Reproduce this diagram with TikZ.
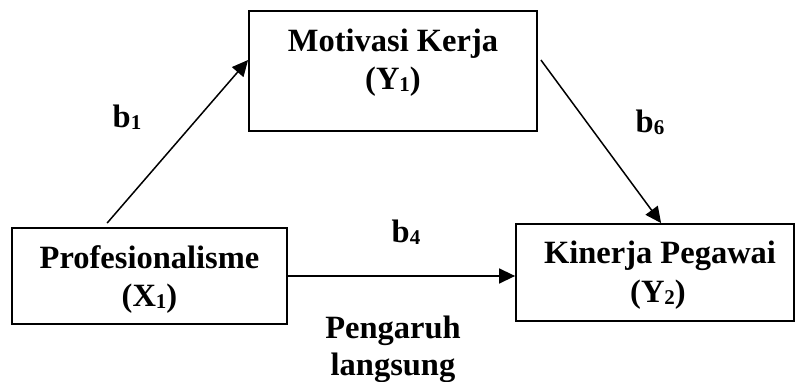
\documentclass[tikz,border=0pt]{standalone}
\usepackage{fontspec}
\setmainfont{Liberation Serif}
\usetikzlibrary{arrows.meta}
\newcommand{\sbx}[1]{\raisebox{-2pt}{\fontsize{21}{21}\selectfont #1}}
\begin{document}
\begin{tikzpicture}[x=1pt,y=1pt,
  box/.style={draw, line width=1.8pt, inner sep=0pt},
  txt/.style={anchor=base, inner sep=0pt, font=\fontsize{32.5}{38}\selectfont\bfseries},
  conn/.style={line width=1.5pt, -{Triangle[length=16pt,width=15pt]}}]
\useasboundingbox (0,0) rectangle (795,382);
% boxes
\node[box, minimum width=288pt, minimum height=120pt] (y1) at (393,311) {};
\node[box, minimum width=275pt, minimum height=96pt] (x1) at (149.5,106) {};
\node[box, minimum width=278pt, minimum height=97pt] (y2) at (655,109.5) {};
% box texts
\node[txt] (y1a) at (393,330) {Motivasi Kerja};
\node[txt] (y1b) at (393,292) {(Y\sbx{1})};
\node[txt] (x1a) at (149.5,113) {Profesionalisme};
\node[txt] (x1b) at (149.5,75) {(X\sbx{1})};
\node[txt] (y2a) at (660,118) {Kinerja Pegawai};
\node[txt] (y2b) at (658,79) {(Y\sbx{2})};
% labels
\node[txt] (lb1) at (127,254) {b\sbx{1}};
\node[txt] (lb6) at (650,249) {b\sbx{6}};
\node[txt] (lb4) at (406,139) {b\sbx{4}};
\node[txt] (lp1) at (393,43) {Pengaruh};
\node[txt] (lp2) at (393,6) {langsung};
% connectors
\draw[conn] ([xshift=96pt,yshift=4pt]x1.north west) -- ([yshift=11pt]y1.west);
\draw[conn] ([xshift=3pt,yshift=11pt]y1.east) -- ([xshift=146pt]y2.north west);
\draw[conn] (x1.east) -- (x1.east -| y2.west);
\end{tikzpicture}
\end{document}
